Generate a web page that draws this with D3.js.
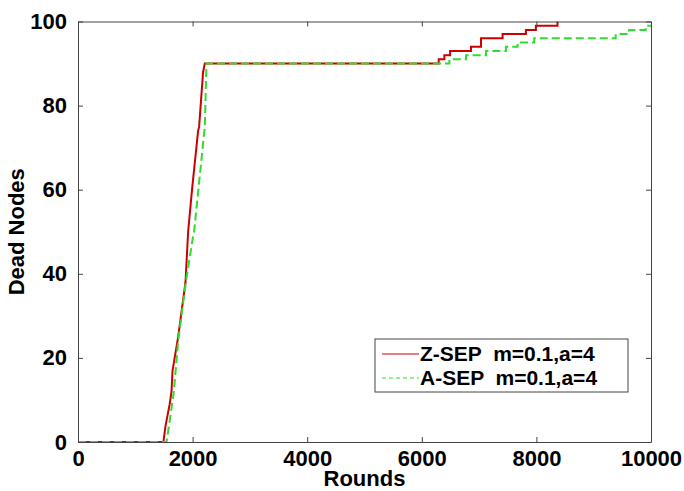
<!DOCTYPE html>
<meta charset="utf-8">
<html>
<head>
<title>Dead Nodes vs Rounds</title>
<style>
  body { margin: 0; background: #fff; }
  text { font-family: "Liberation Sans", Arial, sans-serif; font-weight: bold; white-space: pre; }
</style>
</head>
<body>
<div id="chart"></div>
<script src="https://cdn.jsdelivr.net/npm/d3@7"></script>
<script>

// rounds / dead nodes (corners of the steps included)
var zsepRounds = [0, 1490, 1530, 1600, 1632, 1650, 1748, 1876, 1922, 1990, 2096, 2114, 2183, 2213,
                  6295, 6295, 6394, 6394, 6493, 6493, 6858, 6858, 7033, 7033, 7410, 7410, 7817, 7817, 7991, 7991, 8368, 8368];
var zsepDead   = [0, 0, 4, 9, 12, 17, 25, 38, 50, 60, 74, 75, 88, 90,
                  90, 91, 91, 92, 92, 93, 93, 94, 94, 96, 96, 97, 97, 98, 98, 99, 99, 100];

var asepRounds = [0, 1545, 1600, 1673, 1748, 1882, 2009, 2026, 2213, 2242,
                  6481, 6481, 6771, 6771, 7120, 7120, 7468, 7468, 7671, 7671, 7962, 7962, 9384, 9384, 9617, 9617, 9907, 9907, 10000];
var asepDead   = [0, 0, 5, 12, 24, 38, 49, 50, 75, 90,
                  90, 91, 91, 92, 92, 93, 93, 94, 94, 95, 95, 96, 96, 97, 97, 98, 98, 99, 99];

var xTicks = [0, 2000, 4000, 6000, 8000, 10000];
var yTicks = [0, 20, 40, 60, 80, 100];
var seriesNames = ["Z-SEP  m=0.1,a=4", "A-SEP  m=0.1,a=4"];

var margin = {top: 21.5, right: 33, bottom: 49, left: 78},
    W = 684, H = 491,
    width = W - margin.left - margin.right,
    height = H - margin.top - margin.bottom;

var svg = d3.select("#chart")
  .append("svg")
    .attr("width", W)
    .attr("height", H);

var g = svg.append("g")
    .attr("transform", "translate(" + margin.left + "," + margin.top + ")");

var x = d3.scaleLinear().domain([0, 10000]).range([0, width]);
var y = d3.scaleLinear().domain([0, 100]).range([height, 0]);

function pairs(xs, ys) {
  return xs.map(function(v, i) { return [v, ys[i]]; });
}

var line = d3.line()
  .x(function(d) { return x(d[0]); })
  .y(function(d) { return y(d[1]); });

g.append("path")
  .datum(pairs(zsepRounds, zsepDead))
  .attr("fill", "none")
  .attr("stroke", "#cc0000")
  .attr("stroke-width", 2)
  .attr("d", line);

g.append("path")
  .datum(pairs(asepRounds, asepDead))
  .attr("fill", "none")
  .attr("stroke", "#2fdc2f")
  .attr("stroke-width", 2)
  .attr("stroke-dasharray", "8,4")
  .attr("d", line);

// axes: ticks inside, box all round
var tickLen = 5;
g.append("g")
  .attr("transform", "translate(0," + height + ")")
  .call(d3.axisBottom(x).tickValues(xTicks).tickSizeInner(-tickLen).tickSizeOuter(0).tickFormat(d3.format("d")))
  .call(function(a) { a.selectAll("text").attr("y", 24).attr("dy", 0); });
g.append("g")
  .call(d3.axisTop(x).tickValues(xTicks).tickSizeInner(-tickLen).tickSizeOuter(0).tickFormat(""));
g.append("g")
  .call(d3.axisLeft(y).tickValues(yTicks).tickSizeInner(-tickLen).tickSizeOuter(0).tickPadding(11));
g.append("g")
  .attr("transform", "translate(" + width + ",0)")
  .call(d3.axisRight(y).tickValues(yTicks).tickSizeInner(-tickLen).tickSizeOuter(0).tickFormat(""));

g.selectAll(".domain").attr("stroke", "#444");
g.selectAll(".tick line").attr("stroke", "#444");
g.selectAll(".tick text")
  .attr("fill", "#000")
  .style("font-size", "22px")
  .style("font-weight", "bold")
  .style("font-family", "'Liberation Sans', Arial, sans-serif");

g.append("text")
  .attr("text-anchor", "middle")
  .attr("x", width / 2)
  .attr("y", height + 44)
  .style("font-size", "22px")
  .text("Rounds");

g.append("text")
  .attr("text-anchor", "middle")
  .attr("transform", "translate(" + (-54) + "," + (height / 2) + ") rotate(-90)")
  .style("font-size", "22px")
  .text("Dead Nodes");

// legend
var legend = svg.append("g").attr("transform", "translate(375,339)");
legend.append("rect")
  .attr("width", 253)
  .attr("height", 53)
  .attr("fill", "#fff")
  .attr("stroke", "#444")
  .attr("stroke-width", 1);

var legendStyles = [
  {stroke: "#cc0000", dash: null},
  {stroke: "#2fdc2f", dash: "4,3"}
];
seriesNames.forEach(function(name, i) {
  var ly = 15 + i * 24;
  legend.append("line")
    .attr("x1", 7).attr("x2", 44)
    .attr("y1", ly).attr("y2", ly)
    .attr("stroke", legendStyles[i].stroke)
    .attr("stroke-width", 1.2)
    .attr("stroke-dasharray", legendStyles[i].dash);
  legend.append("text")
    .attr("x", 45)
    .attr("y", ly + 7)
    .style("font-size", "21px")
    .text(name);
});

</script>
</body>
</html>
